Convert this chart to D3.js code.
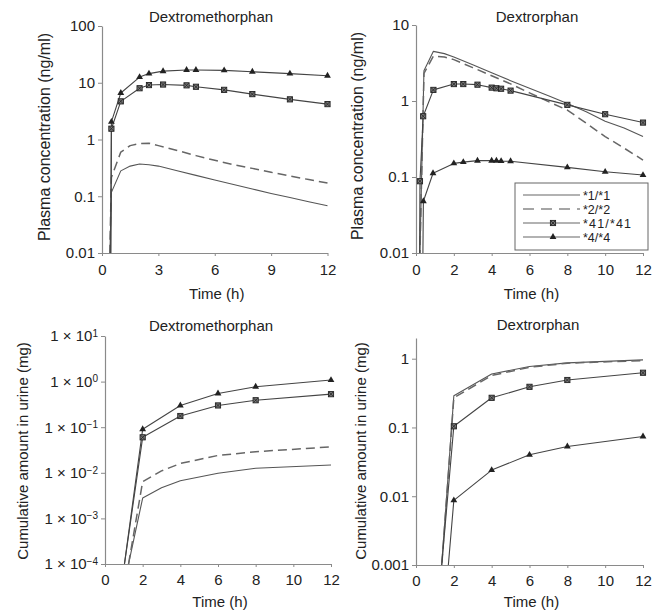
<!DOCTYPE html>
<html>
<head>
<meta charset="utf-8">
<script src="https://cdn.jsdelivr.net/npm/d3@7"></script>
<style>
  html, body { margin: 0; padding: 0; background: #fff; }
  svg { display: block; }
  text { font-family: "Liberation Sans", Arial, Helvetica, sans-serif; fill: #222; }
</style>
</head>
<body>
<svg id="chart" width="659" height="616"></svg>
<script>
// ---------------- DATA ----------------
const genotypes = ["*1/*1", "*2/*2", "*41/*41", "*4/*4"];
const panelTitles = ["Dextromethorphan", "Dextrorphan", "Dextromethorphan", "Dextrorphan"];
const xAxisTitle = "Time (h)";
const plasmaAxisTitle = "Plasma concentration (ng/ml)";
const urineAxisTitle = "Cumulative amount in urine (mg)";

// Panel A: dextromethorphan plasma (ng/ml)
const dmPlasmaSimTime = [0.35, 0.5, 1, 1.5, 2, 2.5, 3, 4, 5, 6, 7, 8, 9, 10, 11, 12];
const dmPlasma11 = [0.001, 0.117, 0.28, 0.34, 0.37, 0.36, 0.34, 0.282, 0.233, 0.193, 0.161, 0.134, 0.112, 0.095, 0.08, 0.068];
const dmPlasma22 = [0.001, 0.215, 0.6, 0.78, 0.85, 0.86, 0.78, 0.64, 0.52, 0.43, 0.36, 0.31, 0.264, 0.227, 0.197, 0.171];
const dmPlasmaObsTime = [0.45, 0.5, 1, 2, 2.5, 3.25, 4.5, 5, 6.5, 8, 10, 12];
const dmPlasma4141 = [0.001, 1.55, 4.7, 8.0, 9.1, 9.3, 9.0, 8.5, 7.5, 6.3, 5.1, 4.2];
const dmPlasma44 = [0.001, 2.05, 6.6, 12.6, 14.5, 16.0, 16.8, 16.8, 16.5, 15.6, 14.5, 13.3];

// Panel B: dextrorphan plasma (ng/ml)
const dxPlasmaSimTime = [0.12, 0.42, 0.92, 1.5, 2, 3, 4, 5, 6, 7, 8, 9, 10, 11, 12];
const dxPlasma11 = [0.001, 2.5, 4.5, 4.2, 3.8, 3.0, 2.35, 1.85, 1.47, 1.17, 0.93, 0.72, 0.54, 0.44, 0.34];
const dxPlasma22 = [0.001, 2.3, 3.9, 3.8, 3.5, 2.75, 2.15, 1.68, 1.28, 0.98, 0.76, 0.51, 0.34, 0.24, 0.167];
const dxPlasma41Time = [0.17, 0.21, 0.38, 0.92, 2, 2.5, 3.25, 4, 4.25, 4.5, 5, 8, 10, 12];
const dxPlasma4141 = [0.001, 0.088, 0.63, 1.40, 1.67, 1.67, 1.64, 1.50, 1.47, 1.45, 1.37, 0.89, 0.67, 0.52];
const dxPlasma4Time = [0.33, 0.39, 0.9, 2, 2.5, 3.25, 4, 4.25, 4.5, 5, 8, 10, 12];
const dxPlasma44 = [0.001, 0.048, 0.112, 0.151, 0.157, 0.164, 0.164, 0.164, 0.162, 0.161, 0.134, 0.117, 0.106];

// Panel C: dextromethorphan cumulative urine (mg)
const dmUrineSimTime = [1, 2, 3, 4, 6, 8, 12];
const dmUrine11 = [3.3e-5, 0.0028, 0.0047, 0.0067, 0.0098, 0.0126, 0.0148];
const dmUrine22 = [2.5e-5, 0.0064, 0.011, 0.016, 0.024, 0.029, 0.037];
const dmUrineObsTime = [1, 2, 4, 6, 8, 12];
const dmUrine4141 = [8e-5, 0.06, 0.176, 0.30, 0.39, 0.53];
const dmUrine44 = [8e-5, 0.09, 0.30, 0.55, 0.77, 1.08];

// Panel D: dextrorphan cumulative urine (mg)
const dxUrineTime = [1, 2, 4, 6, 8, 12];
const dxUrine11 = [4.1e-5, 0.29, 0.60, 0.77, 0.87, 0.96];
const dxUrine22 = [4.1e-5, 0.27, 0.57, 0.75, 0.86, 0.94];
const dxUrine4141 = [7.4e-5, 0.104, 0.27, 0.39, 0.49, 0.625];
const dxUrine44 = [5e-6, 0.0087, 0.024, 0.040, 0.053, 0.074];

// Ticks
const xTicksA = [0, 3, 6, 9, 12];
const xTicksB = [0, 2, 4, 6, 8, 10, 12];
const yTicksA = [0.01, 0.1, 1, 10, 100];
const yLabelsA = ["0.01", "0.1", "1", "10", "100"];
const yTicksB = [0.01, 0.1, 1, 10];
const yLabelsB = ["0.01", "0.1", "1", "10"];
const yTicksC = [1e-4, 1e-3, 1e-2, 1e-1, 1, 10];
const yExponentsC = ["\u22124", "\u22123", "\u22122", "\u22121", "0", "1"];
const yTicksD = [0.001, 0.01, 0.1, 1];
const yLabelsD = ["0.001", "0.01", "0.1", "1"];

// ---------------- DRAWING ----------------
const svg = d3.select("#chart");
const zip = (ts, vs) => ts.map((t, i) => ({ t, v: vs[i] }));

const styles = {
  "*1/*1":   { stroke: "#555", width: 1.1, dash: null, marker: null },
  "*2/*2":   { stroke: "#666", width: 1.5, dash: "9,5", marker: null },
  "*41/*41": { stroke: "#444", width: 1.1, dash: null, marker: "square" },
  "*4/*4":   { stroke: "#444", width: 1.1, dash: null, marker: "triangle" }
};

function drawMarker(g, type, cx, cy) {
  if (type === "square") {
    g.append("rect").attr("x", cx - 2.6).attr("y", cy - 2.6).attr("width", 5.2).attr("height", 5.2)
      .attr("fill", "#777").attr("stroke", "#222").attr("stroke-width", 0.9);
    g.append("path").attr("d", `M${cx-2.2},${cy-2.2}L${cx+2.2},${cy+2.2}M${cx+2.2},${cy-2.2}L${cx-2.2},${cy+2.2}`)
      .attr("stroke", "#222").attr("stroke-width", 0.8);
  } else if (type === "triangle") {
    g.append("path").attr("d", d3.symbol(d3.symbolTriangle, 20)())
      .attr("transform", `translate(${cx},${cy})`).attr("fill", "#222");
  }
}

let clipId = 0;
function drawPanel(cfg) {
  const x = d3.scaleLinear().domain([0, 12]).range([cfg.x0, cfg.x1]);
  const y = d3.scaleLog().domain(cfg.yDomain).range([cfg.yBottom, cfg.yTop]);

  const id = "clip" + (clipId++);
  svg.append("clipPath").attr("id", id).append("rect")
    .attr("x", cfg.x0).attr("y", cfg.yTop - 10)
    .attr("width", cfg.x1 - cfg.x0 + 10).attr("height", cfg.yBottom - cfg.yTop + 10);

  // axes
  const gx = svg.append("g").attr("transform", `translate(0,${cfg.yBottom})`)
    .call(d3.axisBottom(x).tickValues(cfg.xTicks).tickSize(3).tickSizeOuter(0).tickPadding(cfg.xPad));
  const gy = svg.append("g").attr("transform", `translate(${cfg.x0},0)`)
    .call(d3.axisLeft(y).tickValues(cfg.yTicks).tickSize(4).tickSizeOuter(0).tickPadding(3)
      .tickFormat((d, i) => cfg.yLabels ? cfg.yLabels[i] : ""));
  [gx, gy].forEach(g => {
    g.select(".domain").attr("stroke", "#8a8a8a").attr("stroke-width", 1.2);
    g.selectAll(".tick line").attr("stroke", "#8a8a8a").attr("stroke-width", 1);
    g.selectAll(".tick text").attr("fill", "#222").style("font-size", "15px")
      .style("font-family", '"Liberation Sans", Arial, sans-serif');
  });
  if (cfg.yExponents) {
    gy.selectAll(".tick text").each(function (d, i) {
      const t = d3.select(this);
      t.text(null);
      t.append("tspan").text("1 \u00d7 10");
      t.append("tspan").attr("dy", "-0.45em").style("font-size", "10px").text(cfg.yExponents[i]);
    });
  }

  // titles
  svg.append("text").attr("x", cfg.titleX).attr("y", cfg.titleY).attr("text-anchor", "middle")
    .style("font-size", "15px").text(cfg.title);
  svg.append("text").attr("x", (cfg.x0 + cfg.x1) / 2 + 2).attr("y", cfg.xTitleY).attr("text-anchor", "middle")
    .style("font-size", "15px").text(xAxisTitle);
  svg.append("text").attr("transform", `translate(${cfg.yTitleX},${cfg.yTitleY}) rotate(-90)`)
    .attr("text-anchor", "middle").style("font-size", cfg.yTitleSize).text(cfg.yTitle);

  // series
  const line = d3.line().x(d => x(d.t)).y(d => y(d.v));
  const plot = svg.append("g").attr("clip-path", `url(#${id})`);
  cfg.series.forEach(s => {
    const st = styles[s.name];
    plot.append("path").datum(s.data).attr("d", line)
      .attr("fill", "none").attr("stroke", st.stroke).attr("stroke-width", st.width)
      .attr("stroke-dasharray", st.dash).attr("stroke-linejoin", "round");
  });
  cfg.series.forEach(s => {
    const st = styles[s.name];
    if (!st.marker) return;
    const mg = svg.append("g");
    s.data.filter(d => d.v >= cfg.yDomain[0]).forEach(d => drawMarker(mg, st.marker, x(d.t), y(d.v)));
  });
  return { x, y };
}

// Panel A
drawPanel({
  x0: 102, x1: 327.5, yTop: 26, yBottom: 253, yDomain: [0.01, 100],
  xTicks: xTicksA, yTicks: yTicksA, yLabels: yLabelsA, xPad: 8,
  title: panelTitles[0], titleX: 211, titleY: 22, xTitleY: 299,
  yTitle: plasmaAxisTitle, yTitleX: 50, yTitleY: 137, yTitleSize: "16px",
  series: [
    { name: "*1/*1", data: zip(dmPlasmaSimTime, dmPlasma11) },
    { name: "*2/*2", data: zip(dmPlasmaSimTime, dmPlasma22) },
    { name: "*41/*41", data: zip(dmPlasmaObsTime, dmPlasma4141) },
    { name: "*4/*4", data: zip(dmPlasmaObsTime, dmPlasma44) }
  ]
});

// Panel B
drawPanel({
  x0: 416, x1: 643, yTop: 25, yBottom: 253, yDomain: [0.01, 10],
  xTicks: xTicksB, yTicks: yTicksB, yLabels: yLabelsB, xPad: 8,
  title: panelTitles[1], titleX: 537, titleY: 22, xTitleY: 299,
  yTitle: plasmaAxisTitle, yTitleX: 363, yTitleY: 136, yTitleSize: "16px",
  series: [
    { name: "*1/*1", data: zip(dxPlasmaSimTime, dxPlasma11) },
    { name: "*2/*2", data: zip(dxPlasmaSimTime, dxPlasma22) },
    { name: "*41/*41", data: zip(dxPlasma41Time, dxPlasma4141) },
    { name: "*4/*4", data: zip(dxPlasma4Time, dxPlasma44) }
  ]
});

// Panel C
drawPanel({
  x0: 105, x1: 331, yTop: 336, yBottom: 564, yDomain: [1e-4, 10],
  xTicks: xTicksB, yTicks: yTicksC, yExponents: yExponentsC, xPad: 7,
  title: panelTitles[2], titleX: 211, titleY: 331, xTitleY: 607,
  yTitle: urineAxisTitle, yTitleX: 28, yTitleY: 451, yTitleSize: "15px",
  series: [
    { name: "*1/*1", data: zip(dmUrineSimTime, dmUrine11) },
    { name: "*2/*2", data: zip(dmUrineSimTime, dmUrine22) },
    { name: "*41/*41", data: zip(dmUrineObsTime, dmUrine4141) },
    { name: "*4/*4", data: zip(dmUrineObsTime, dmUrine44) }
  ]
});

// Panel D
drawPanel({
  x0: 416, x1: 643, yTop: 338, yBottom: 565, yDomain: [0.001, 2],
  xTicks: xTicksB, yTicks: yTicksD, yLabels: yLabelsD, xPad: 7,
  title: panelTitles[3], titleX: 538, titleY: 330, xTitleY: 607,
  yTitle: urineAxisTitle, yTitleX: 366, yTitleY: 451, yTitleSize: "15px",
  series: [
    { name: "*1/*1", data: zip(dxUrineTime, dxUrine11) },
    { name: "*2/*2", data: zip(dxUrineTime, dxUrine22) },
    { name: "*41/*41", data: zip(dxUrineTime, dxUrine4141) },
    { name: "*4/*4", data: zip(dxUrineTime, dxUrine44) }
  ]
});

// Legend (in panel B)
const lg = svg.append("g");
lg.append("rect").attr("x", 515).attr("y", 183).attr("width", 133).attr("height", 67)
  .attr("fill", "#fff").attr("stroke", "#666").attr("stroke-width", 1);
const rowY = d3.scalePoint().domain(genotypes).range([195, 237]);
genotypes.forEach(name => {
  const st = styles[name];
  const yy = rowY(name);
  lg.append("line").attr("x1", 523).attr("x2", 580).attr("y1", yy).attr("y2", yy)
    .attr("stroke", name === "*2/*2" ? "#888" : "#666").attr("stroke-width", st.width)
    .attr("stroke-dasharray", name === "*2/*2" ? "11,7" : null);
  if (st.marker) drawMarker(lg, st.marker, 553, yy);
  lg.append("text").attr("x", 583).attr("y", yy + 4.5).style("font-size", "12.5px")
    .attr("textLength", name === "*41/*41" ? 48 : null).text(name);
});
</script>
</body>
</html>
